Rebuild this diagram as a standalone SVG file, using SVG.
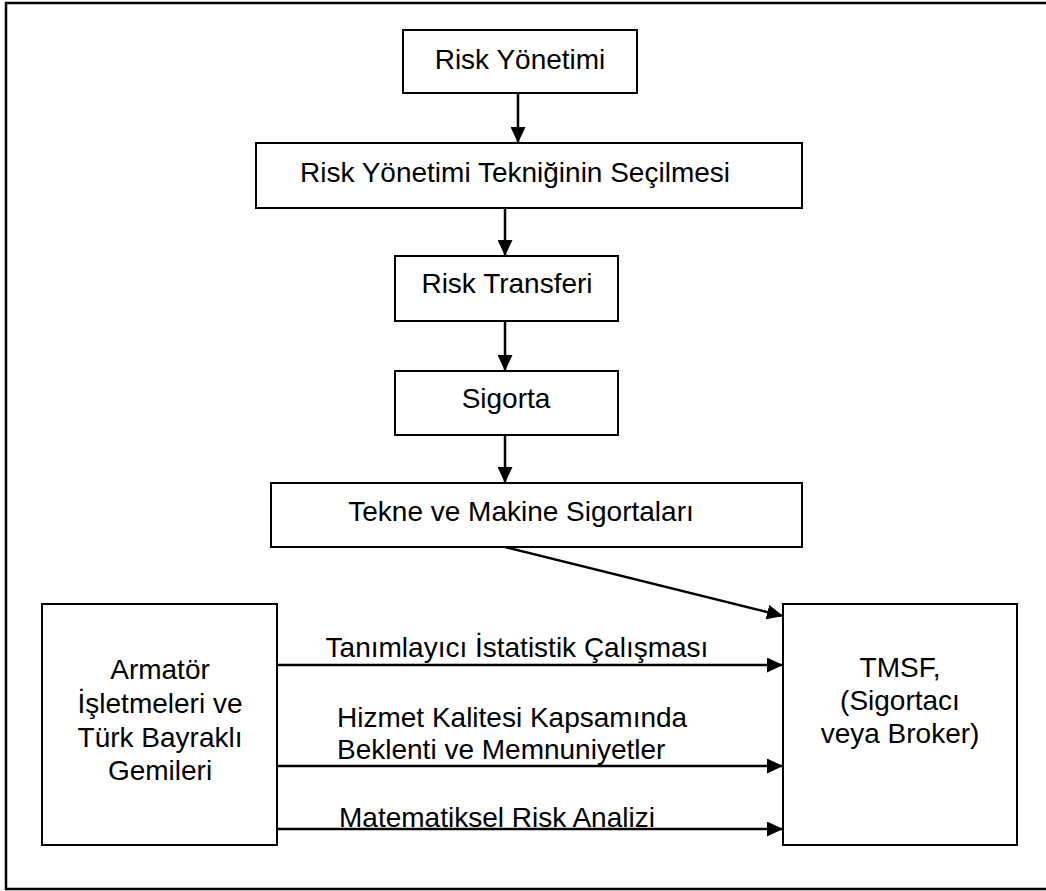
<svg xmlns="http://www.w3.org/2000/svg" width="1046" height="891" viewBox="0 0 1046 891">
  <style>
    .box { fill: #ffffff; stroke: #000000; stroke-width: 2; }
    .frame { fill: none; stroke: #000000; stroke-width: 2.5; }
    .link { fill: none; stroke: #000000; stroke-width: 2.5; marker-end: url(#head); }
    text { font-family: "Liberation Sans", Arial, sans-serif; font-size: 28px; fill: #000000; }
    .c { text-anchor: middle; }
  </style>
  <defs>
    <marker id="head" markerUnits="userSpaceOnUse" markerWidth="16" markerHeight="15" refX="16" refY="7.5" orient="auto">
      <path d="M0,0 L16,7.5 L0,15 Z" fill="#000000"/>
    </marker>
  </defs>

  <rect width="1046" height="891" fill="#ffffff"/>
  <!-- page frame, open on the right -->
  <path class="frame" d="M1050,3 H6 V889 H1050"/>

  <g id="risk-yonetimi">
    <rect class="box" x="403" y="30" width="234" height="63"/>
    <text class="c" x="520" y="69">Risk Yönetimi</text>
  </g>

  <g id="teknik-secimi">
    <rect class="box" x="256" y="143" width="546" height="65"/>
    <text class="c" x="515" y="182">Risk Yönetimi Tekniğinin Seçilmesi</text>
  </g>

  <g id="risk-transferi">
    <rect class="box" x="395" y="256" width="223" height="65"/>
    <text class="c" x="507" y="293">Risk Transferi</text>
  </g>

  <g id="sigorta">
    <rect class="box" x="395" y="371" width="223" height="64"/>
    <text class="c" x="506" y="408">Sigorta</text>
  </g>

  <g id="tekne-makine">
    <rect class="box" x="271" y="483" width="531" height="64"/>
    <text class="c" x="521" y="521">Tekne ve Makine Sigortaları</text>
  </g>

  <g id="armator">
    <rect class="box" x="42" y="604" width="235" height="241"/>
    <text class="c" x="160" y="679">Armatör</text>
    <text class="c" x="160" y="713">İşletmeleri ve</text>
    <text class="c" x="160" y="747">Türk Bayraklı</text>
    <text class="c" x="160" y="780">Gemileri</text>
  </g>

  <g id="tmsf">
    <rect class="box" x="783" y="604" width="234" height="241"/>
    <text class="c" x="900" y="677">TMSF,</text>
    <text class="c" x="900" y="710">(Sigortacı</text>
    <text class="c" x="900" y="743">veya Broker)</text>
  </g>

  <g id="connectors">
    <line class="link" x1="518" y1="93" x2="518" y2="143"/>
    <line class="link" x1="505" y1="208" x2="505" y2="256"/>
    <line class="link" x1="505" y1="321" x2="505" y2="371"/>
    <line class="link" x1="505" y1="435" x2="505" y2="483"/>
    <line class="link" x1="505" y1="547" x2="783" y2="616"/>
    <line class="link" x1="277" y1="665" x2="783" y2="665"/>
    <line class="link" x1="277" y1="766" x2="783" y2="766"/>
    <line class="link" x1="277" y1="829" x2="783" y2="829"/>
    <text class="c" x="517" y="657">Tanımlayıcı İstatistik Çalışması</text>
    <text x="337" y="727">Hizmet Kalitesi Kapsamında</text>
    <text x="337" y="759">Beklenti ve Memnuniyetler</text>
    <text x="339" y="827">Matematiksel Risk Analizi</text>
  </g>
</svg>
